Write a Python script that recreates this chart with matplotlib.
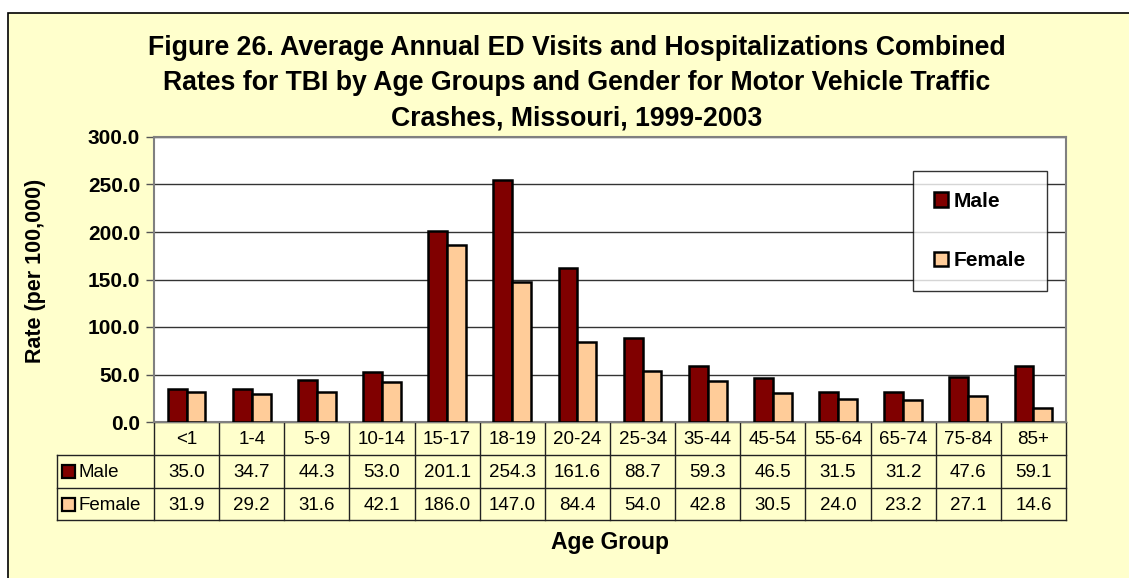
import matplotlib
matplotlib.use("Agg")
import matplotlib.pyplot as plt
import numpy as np
from matplotlib.patches import Rectangle
from matplotlib.lines import Line2D

plt.rcParams['font.family'] = ['Liberation Sans', 'DejaVu Sans']

categories = ["<1", "1-4", "5-9", "10-14", "15-17", "18-19", "20-24", "25-34",
              "35-44", "45-54", "55-64", "65-74", "75-84", "85+"]
male = [35.0, 34.7, 44.3, 53.0, 201.1, 254.3, 161.6, 88.7, 59.3, 46.5, 31.5, 31.2, 47.6, 59.1]
female = [31.9, 29.2, 31.6, 42.1, 186.0, 147.0, 84.4, 54.0, 42.8, 30.5, 24.0, 23.2, 27.1, 14.6]
series_names = ["Male", "Female"]
yticks = [0, 50, 100, 150, 200, 250, 300]
title = ("Figure 26. Average Annual ED Visits and Hospitalizations Combined\n"
         "Rates for TBI by Age Groups and Gender for Motor Vehicle Traffic\n"
         "Crashes, Missouri, 1999-2003")

MALE_C = "#800000"
FEMALE_C = "#FFCC99"
BG = "#FFFFCC"

W, H = 1129, 578
fig = plt.figure(figsize=(W / 100, H / 100), dpi=100, facecolor="white")

# outer yellow frame
fig.patches.append(Rectangle((8 / W, (H - 13 - 600) / H), 1200 / W, 600 / H,
                             transform=fig.transFigure, facecolor=BG,
                             edgecolor="black", lw=1.2, zorder=-10))

L, R, T, B = 154, 1066, 137, 422
ax = fig.add_axes([L / W, (H - B) / H, (R - L) / W, (B - T) / H])
ax.set_facecolor("white")

n = len(categories)
x = np.arange(n)
bw = 0.29
ax.bar(x - bw / 2, male, bw, color=MALE_C, edgecolor="black", lw=1.8, zorder=3,
       label=series_names[0])
ax.bar(x + bw / 2, female, bw, color=FEMALE_C, edgecolor="black", lw=1.8, zorder=3,
       label=series_names[1])

ax.set_xlim(-0.5, n - 0.5)
ax.set_ylim(0, 300)
ax.set_yticks(yticks)
ax.set_yticklabels([f"{v:.1f}" for v in yticks], fontsize=15, fontweight="bold")
ax.tick_params(axis="y", length=6, width=1, color="#555555", pad=4)
ax.set_xticks([])
ax.grid(axis="y", color="#333333", lw=1, zorder=1)
ax.set_axisbelow(True)
for s in ["left", "right", "top", "bottom"]:
    ax.spines[s].set_color("#808080")
    ax.spines[s].set_linewidth(1.5)

ax.set_ylabel("Rate (per 100,000)", fontsize=15.5, fontweight="bold")
ax.yaxis.set_label_coords((46 - L) / (R - L), (B - 271) / (B - T))

# Legend
leg = ax.legend(loc="upper left", bbox_to_anchor=((913 - L) / (R - L), 1 - (171 - T) / (B - T)),
                frameon=True, fancybox=False, prop={"weight": "bold", "size": 15},
                handlelength=0.67, handleheight=0.67, labelspacing=1.95, borderpad=1.0,
                handletextpad=0.3, borderaxespad=0)
leg.get_frame().set_edgecolor("black")
leg.get_frame().set_linewidth(1)
leg.set_zorder(5)
for h in leg.legend_handles:
    h.set_linewidth(1.8)

# Data table below the axes
tr = ax.transAxes
ph = B - T
def yf(py):
    return (B - py) / ph
def xf(px):
    return (px - L) / (R - L)

row_y = [422, 455, 488, 520]
left_lab = 57
lc = "#222222"
lw = 1
ax.add_line(Line2D([0, 1], [yf(row_y[0])] * 2, transform=tr, color=lc, lw=lw, clip_on=False))
for yy in row_y[1:]:
    ax.add_line(Line2D([xf(left_lab), 1], [yf(yy)] * 2, transform=tr, color=lc, lw=lw, clip_on=False))
for i in range(n + 1):
    ax.add_line(Line2D([i / n] * 2, [yf(row_y[0]), yf(row_y[3])], transform=tr,
                       color=lc, lw=lw, clip_on=False))
ax.add_line(Line2D([xf(left_lab)] * 2, [yf(row_y[1]), yf(row_y[3])], transform=tr,
                   color=lc, lw=lw, clip_on=False))

fs_tab = 13.5
for i, c in enumerate(categories):
    xc = (i + 0.5) / n
    ax.text(xc, yf((row_y[0] + row_y[1]) / 2 + 1), c, transform=tr, ha="center", va="center",
            fontsize=fs_tab)
    ax.text(xc, yf((row_y[1] + row_y[2]) / 2 + 1), f"{male[i]:.1f}", transform=tr, ha="center",
            va="center", fontsize=fs_tab)
    ax.text(xc, yf((row_y[2] + row_y[3]) / 2 + 1), f"{female[i]:.1f}", transform=tr, ha="center",
            va="center", fontsize=fs_tab)

for k, (name, col) in enumerate(zip(series_names, [MALE_C, FEMALE_C])):
    ymid = (row_y[1 + k] + row_y[2 + k]) / 2
    sq = 13
    ax.add_patch(Rectangle((xf(62), yf(ymid + sq / 2)), sq / (R - L), sq / ph, transform=tr,
                           facecolor=col, edgecolor="black", lw=1.6, clip_on=False))
    ax.text(xf(79), yf(ymid + 1), name, transform=tr, ha="left", va="center", fontsize=fs_tab)

fig.text(610 / W, 1 - 542 / H, "Age Group", ha="center", va="center", fontsize=16.5,
         fontweight="bold")

fig.text(577 / W, 1 - 83 / H, title, ha="center", va="center", fontsize=19.2,
         fontweight="bold", linespacing=1.45)

fig.savefig("out.png", dpi=100, facecolor=fig.get_facecolor())
